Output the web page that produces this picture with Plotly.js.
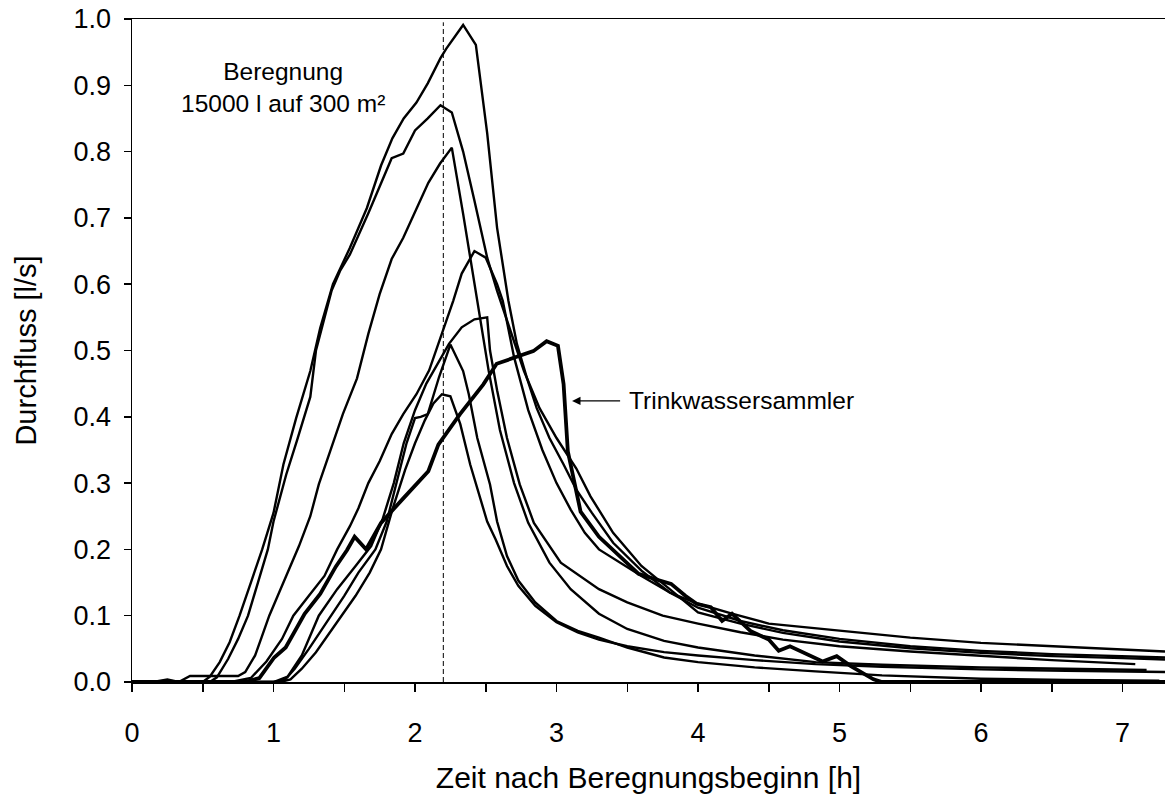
<!DOCTYPE html>
<html>
<head>
<meta charset="utf-8">
<script src="https://cdn.plot.ly/plotly-3.0.1.min.js"></script>
<style>
  html, body { margin: 0; padding: 0; background: #ffffff; }
  #chart { width: 1165px; height: 794px; }
</style>
</head>
<body>
<div id="chart"></div>
<script>
// Abflussganglinien der Beregnungsversuche (Zeit in h, Durchfluss in l/s)
const run1T = [0, 0.5, 0.55, 0.62, 0.69, 0.76, 0.84, 0.92, 1.0, 1.07, 1.16, 1.26, 1.33, 1.42, 1.54, 1.66, 1.76, 1.84, 1.92, 2.01, 2.09, 2.18, 2.22, 2.34, 2.43, 2.51, 2.58, 2.66, 2.72, 2.79, 2.86, 2.95, 3.05, 3.14, 3.25, 3.4, 3.6, 3.8, 4.0, 4.3, 4.6, 5.0, 5.5, 6.0, 6.5, 7.0, 7.3];
const run1Q = [0, 0, 0.008, 0.03, 0.06, 0.1, 0.15, 0.2, 0.255, 0.328, 0.398, 0.469, 0.534, 0.6, 0.655, 0.715, 0.779, 0.82, 0.85, 0.874, 0.903, 0.941, 0.955, 0.991, 0.961, 0.828, 0.685, 0.575, 0.51, 0.459, 0.413, 0.368, 0.328, 0.29, 0.255, 0.21, 0.168, 0.135, 0.112, 0.092, 0.078, 0.065, 0.054, 0.047, 0.042, 0.039, 0.037];

const run2T = [0, 0.55, 0.6, 0.68, 0.75, 0.82, 0.89, 0.96, 1.0, 1.034, 1.09, 1.164, 1.26, 1.3, 1.34, 1.41, 1.47, 1.54, 1.67, 1.75, 1.835, 1.917, 2.0, 2.09, 2.18, 2.26, 2.34, 2.42, 2.51, 2.58, 2.67, 2.77, 2.88, 3.0, 3.14, 3.24, 3.4, 3.6, 3.8, 4.0, 4.3, 4.6, 5.0, 5.5, 6.0, 6.5, 7.0, 7.3];
const run2Q = [0, 0, 0.007, 0.035, 0.065, 0.1, 0.15, 0.2, 0.242, 0.268, 0.313, 0.363, 0.43, 0.5, 0.534, 0.59, 0.62, 0.645, 0.707, 0.746, 0.79, 0.797, 0.832, 0.85, 0.87, 0.859, 0.8, 0.726, 0.64, 0.59, 0.534, 0.469, 0.413, 0.368, 0.322, 0.28, 0.225, 0.175, 0.14, 0.105, 0.088, 0.074, 0.061, 0.051, 0.044, 0.039, 0.036, 0.034];

const run3T = [0, 0.17, 0.25, 0.33, 0.41, 0.55, 0.75, 0.8, 0.87, 0.92, 0.97, 1.03, 1.1, 1.18, 1.26, 1.32, 1.4, 1.49, 1.59, 1.67, 1.75, 1.835, 1.917, 2.0, 2.094, 2.177, 2.26, 2.34, 2.44, 2.52, 2.6, 2.7, 2.8, 2.95, 3.1, 3.3, 3.5, 3.76, 4.0, 4.4, 4.83, 5.3, 6.0, 6.6, 7.17];
const run3Q = [0, 0.001, 0.004, 0, 0.009, 0.009, 0.009, 0.015, 0.04, 0.07, 0.1, 0.13, 0.165, 0.205, 0.25, 0.298, 0.348, 0.404, 0.458, 0.525, 0.585, 0.638, 0.67, 0.708, 0.753, 0.782, 0.806, 0.706, 0.575, 0.47, 0.38, 0.3, 0.24, 0.18, 0.14, 0.103, 0.08, 0.062, 0.052, 0.04, 0.03, 0.026, 0.022, 0.02, 0.018];

const run4T = [0, 0.7, 0.84, 0.95, 1.06, 1.14, 1.25, 1.36, 1.45, 1.54, 1.6, 1.67, 1.75, 1.835, 1.917, 2.01, 2.1, 2.18, 2.27, 2.33, 2.42, 2.5, 2.58, 2.62, 2.7, 2.8, 2.9, 3.0, 3.1, 3.2, 3.3, 3.6, 3.8, 4.0, 4.24, 4.5, 5.0, 5.5, 6.0, 6.5, 7.0, 7.3];
const run4Q = [0, 0, 0.006, 0.031, 0.065, 0.1, 0.13, 0.16, 0.2, 0.235, 0.262, 0.3, 0.333, 0.374, 0.404, 0.434, 0.47, 0.52, 0.575, 0.616, 0.65, 0.64, 0.6, 0.575, 0.49, 0.41, 0.35, 0.3, 0.26, 0.225, 0.2, 0.16, 0.135, 0.118, 0.103, 0.088, 0.077, 0.067, 0.059, 0.054, 0.049, 0.046];

const run5T = [0, 1.0, 1.1, 1.2, 1.32, 1.45, 1.58, 1.69, 1.77, 1.85, 1.92, 2.0, 2.08, 2.16, 2.24, 2.33, 2.42, 2.51, 2.53, 2.58, 2.65, 2.74, 2.84, 3.03, 3.3, 3.5, 3.75, 4.0, 4.3, 4.6, 5.0, 5.5, 6.0, 6.5, 7.09];
const run5Q = [0, 0, 0.008, 0.04, 0.1, 0.14, 0.175, 0.205, 0.245, 0.3, 0.36, 0.41, 0.45, 0.48, 0.51, 0.535, 0.547, 0.55, 0.5, 0.44, 0.368, 0.298, 0.24, 0.18, 0.14, 0.12, 0.1, 0.088, 0.075, 0.064, 0.054, 0.046, 0.039, 0.033, 0.027];

const run6T = [0, 1.0, 1.08, 1.15, 1.25, 1.33, 1.41, 1.5, 1.6, 1.72, 1.8, 1.87, 1.94, 2.0, 2.04, 2.09, 2.17, 2.25, 2.34, 2.38, 2.44, 2.53, 2.58, 2.65, 2.73, 2.85, 3.0, 3.15, 3.3, 3.5, 3.76, 4.0, 4.4, 4.83, 5.3, 6.0, 6.6, 7.26];
const run6Q = [0, 0, 0.003, 0.02, 0.05, 0.075, 0.1, 0.13, 0.165, 0.2, 0.242, 0.3, 0.36, 0.398, 0.4, 0.404, 0.46, 0.509, 0.469, 0.434, 0.368, 0.298, 0.242, 0.19, 0.153, 0.12, 0.092, 0.077, 0.067, 0.052, 0.037, 0.03, 0.022, 0.016, 0.01, 0.005, 0.003, 0.002];

const run7T = [0, 1.05, 1.12, 1.2, 1.3, 1.4, 1.48, 1.58, 1.68, 1.76, 1.84, 1.93, 2.0, 2.07, 2.13, 2.19, 2.25, 2.32, 2.39, 2.46, 2.51, 2.57, 2.65, 2.73, 2.85, 3.0, 3.15, 3.3, 3.5, 3.76, 4.0, 4.4, 4.83, 5.3, 6.0, 6.6, 7.3];
const run7Q = [0, 0, 0.004, 0.02, 0.045, 0.075, 0.1, 0.13, 0.165, 0.2, 0.26, 0.32, 0.36, 0.395, 0.42, 0.434, 0.431, 0.389, 0.328, 0.277, 0.242, 0.215, 0.175, 0.145, 0.115, 0.09, 0.075, 0.064, 0.054, 0.045, 0.04, 0.033, 0.027, 0.023, 0.019, 0.017, 0.015];

// Trinkwassersammler (dicke Linie)
const trinkT = [0, 0.8, 0.9, 1.005, 1.086, 1.22, 1.33, 1.44, 1.52, 1.573, 1.654, 1.76, 1.917, 2.094, 2.165, 2.318, 2.483, 2.577, 2.836, 2.93, 3.01, 3.05, 3.08, 3.17, 3.3, 3.45, 3.58, 3.7, 3.81, 3.91, 3.99, 4.09, 4.17, 4.24, 4.37, 4.5, 4.57, 4.65, 4.75, 4.88, 4.98, 5.08, 5.24, 5.3, 6.0, 7.3];
const trinkQ = [0, 0, 0.006, 0.037, 0.052, 0.103, 0.133, 0.174, 0.199, 0.219, 0.2, 0.24, 0.277, 0.318, 0.358, 0.404, 0.449, 0.48, 0.499, 0.514, 0.507, 0.449, 0.348, 0.257, 0.219, 0.19, 0.163, 0.155, 0.148, 0.13, 0.118, 0.113, 0.092, 0.103, 0.077, 0.064, 0.047, 0.054, 0.044, 0.031, 0.039, 0.024, 0.004, 0, 0, 0];

// Achsenbeschriftung
const xTickVals = [0, 1, 2, 3, 4, 5, 6, 7];
const xTitle = 'Zeit nach Beregnungsbeginn [h]';
const yTitle = 'Durchfluss [l/s]';
const beregnungsEnde = 2.2;

const FONT = 'Liberation Sans, Arial, sans-serif';

const thinRuns = [
  [run1T, run1Q], [run2T, run2Q], [run3T, run3Q], [run4T, run4Q],
  [run5T, run5Q], [run6T, run6Q], [run7T, run7Q]
];

const traces = thinRuns.map(([t, q]) => ({
  x: t, y: q, type: 'scatter', mode: 'lines',
  line: { color: '#000000', width: 2.4 },
  hoverinfo: 'skip'
}));
traces.push({
  x: trinkT, y: trinkQ, type: 'scatter', mode: 'lines',
  line: { color: '#000000', width: 3.8 },
  hoverinfo: 'skip'
});

const layout = {
  width: 1165,
  height: 794,
  margin: { l: 132, r: 0, t: 19, b: 112 },
  paper_bgcolor: '#ffffff',
  plot_bgcolor: '#ffffff',
  showlegend: false,
  font: { family: FONT, color: '#000000', size: 24 },
  xaxis: {
    range: [0, 7.3],
    tickvals: xTickVals,
    ticktext: xTickVals.map(String),
    ticks: 'outside', ticklen: 8, tickwidth: 1.5, tickcolor: '#000000',
    minor: { tick0: 0, dtick: 0.5, ticks: 'outside', ticklen: 8, tickwidth: 1.5, tickcolor: '#000000' },
    showline: true, linecolor: '#000000', linewidth: 1.5, mirror: true,
    showgrid: false, zeroline: false,
    tickfont: { family: FONT, size: 27, color: '#000000' },
    ticklabelstandoff: 18,
    title: { text: xTitle, font: { family: FONT, size: 30, color: '#000000' }, standoff: 22 }
  },
  yaxis: {
    range: [0, 1],
    dtick: 0.1, tick0: 0, tickformat: '.1f',
    ticks: 'outside', ticklen: 7, tickwidth: 1.5, tickcolor: '#000000',
    showline: true, linecolor: '#000000', linewidth: 1.5,
    showgrid: false, zeroline: false,
    tickfont: { family: FONT, size: 27, color: '#000000' },
    ticklabelstandoff: 7,
    title: { text: yTitle, font: { family: FONT, size: 29, color: '#000000' }, standoff: 28 }
  },
  shapes: [{
    type: 'line', xref: 'x', yref: 'y',
    x0: beregnungsEnde, x1: beregnungsEnde, y0: 0, y1: 0.995,
    line: { color: '#000000', width: 1, dash: '5px,3px' }
  }],
  annotations: [
    {
      xref: 'x', yref: 'y', x: 1.07, y: 0.897,
      text: 'Beregnung<br>15000 l auf 300 m²',
      showarrow: false, align: 'center',
      font: { family: FONT, size: 24.5, color: '#000000' }
    },
    {
      xref: 'x', yref: 'y', x: 3.5, y: 0.424, xanchor: 'left',
      text: 'Trinkwassersammler', showarrow: false,
      font: { family: FONT, size: 24.5, color: '#000000' }
    },
    {
      xref: 'x', yref: 'y', x: 3.11, y: 0.424,
      axref: 'x', ayref: 'y', ax: 3.46, ay: 0.424,
      text: '', showarrow: true, arrowhead: 2, arrowsize: 1.4, arrowwidth: 1.2,
      arrowcolor: '#000000'
    }
  ]
};

Plotly.newPlot('chart', traces, layout, { displayModeBar: false, staticPlot: true });
</script>
</body>
</html>
